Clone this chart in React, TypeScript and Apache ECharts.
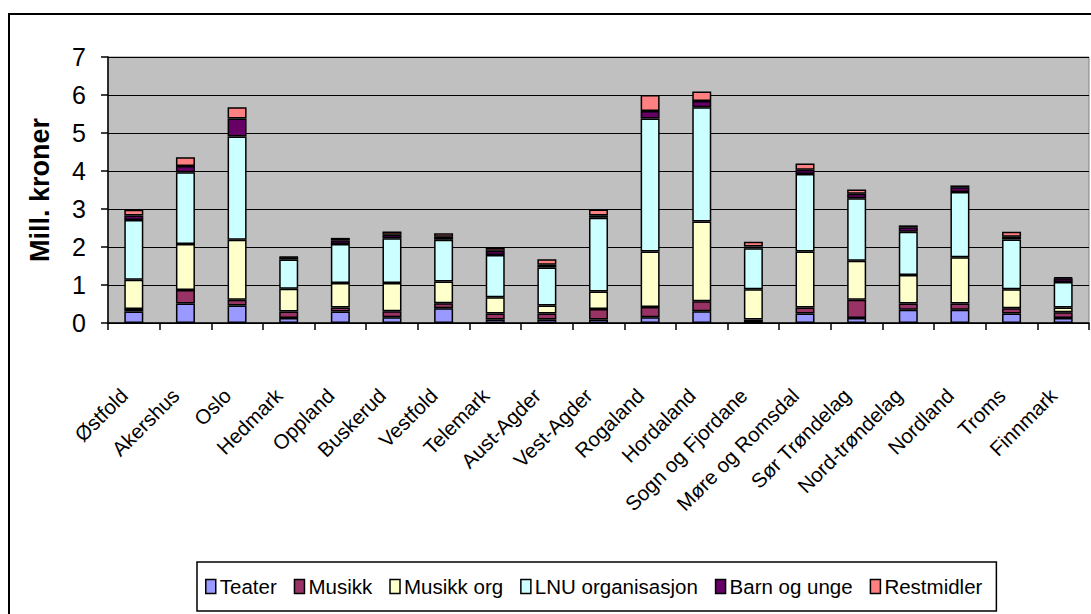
import React, { useEffect, useRef } from "react";
import * as echarts from "echarts";

const categories = ["Østfold","Akershus","Oslo","Hedmark","Oppland","Buskerud","Vestfold","Telemark","Aust-Agder","Vest-Agder","Rogaland","Hordaland","Sogn og Fjordane","Møre og Romsdal","Sør Trøndelag","Nord-trøndelag","Nordland","Troms","Finnmark"];
const teater =     [0.30,0.51,0.46,0.13,0.30,0.15,0.39,0.09,0.09,0.09,0.15,0.31,0.02,0.25,0.13,0.35,0.35,0.25,0.13];
const musikk =     [0.07,0.36,0.15,0.17,0.11,0.16,0.13,0.16,0.16,0.28,0.27,0.26,0.07,0.16,0.48,0.16,0.16,0.14,0.15];
const musikkOrg =  [0.77,1.21,1.58,0.60,0.64,0.74,0.57,0.43,0.21,0.46,1.46,2.10,0.80,1.47,1.03,0.75,1.22,0.50,0.13];
const lnu =        [1.57,1.89,2.72,0.77,1.03,1.18,1.10,1.11,1.00,1.94,3.50,3.01,1.08,2.04,1.64,1.14,1.72,1.31,0.67];
const barnOgUnge = [0.12,0.16,0.47,0.06,0.10,0.09,0.08,0.11,0.07,0.06,0.20,0.16,0.04,0.11,0.12,0.12,0.12,0.07,0.10];
const restmidler = [0.15,0.23,0.30,0.01,0.06,0.09,0.09,0.09,0.15,0.16,0.42,0.25,0.13,0.17,0.11,0.05,0.05,0.13,0.02];
const yTicks = [0,1,2,3,4,5,6,7];

const seriesDefs = [
  { name: "Teater", data: teater, color: "#9999FF" },
  { name: "Musikk", data: musikk, color: "#993366" },
  { name: "Musikk org", data: musikkOrg, color: "#FFFFCC" },
  { name: "LNU organisasjon", data: lnu, color: "#CCFFFF" },
  { name: "Barn og unge", data: barnOgUnge, color: "#660066" },
  { name: "Restmidler", data: restmidler, color: "#FF8080" },
];

const FONT = "'Liberation Sans', Arial, sans-serif";

export default function App() {
  const ref = useRef<HTMLDivElement>(null);
  useEffect(() => {
    const chart = echarts.init(ref.current!, undefined, { renderer: "svg" });
    chart.setOption({
      animation: false,
      backgroundColor: "#fff",
      graphic: [
        { type: "rect", shape: { x: 9, y: 14, width: 1200, height: 800 }, style: { fill: "none", stroke: "#000", lineWidth: 2 }, z: 100 },
      ],
      grid: { left: 108, right: 2, top: 57, bottom: 291, show: true, backgroundColor: "#C0C0C0", borderColor: "#808080", borderWidth: 1 },
      legend: {
        left: 197, top: 562,
        itemWidth: 10, itemHeight: 14, itemGap: 17,
        padding: [14, 14, 14, 8],
        borderColor: "#000", borderWidth: 1.5,
        icon: "rect",
        textStyle: { fontFamily: FONT, fontSize: 20.5, color: "#000", padding: [0, 0, 0, -1] },
        itemStyle: { borderColor: "#000", borderWidth: 1.5 },
        data: seriesDefs.map(s => s.name),
      },
      xAxis: {
        type: "category",
        data: categories,
        axisLine: { lineStyle: { color: "#000", width: 1.5 } },
        axisTick: { show: true, length: 7, lineStyle: { color: "#000", width: 1.5 } },
        axisLabel: { rotate: 45, margin: 59, interval: 0, fontFamily: FONT, fontSize: 20.5, color: "#000", padding: [0, 14, 0, 0] },
      },
      yAxis: {
        type: "value",
        min: 0, max: 7, interval: 1,
        name: "Mill. kroner",
        nameLocation: "middle",
        nameGap: 55,
        nameTextStyle: { fontFamily: FONT, fontSize: 27, fontWeight: "bold", color: "#000" },
        axisLine: { show: true, lineStyle: { color: "#000", width: 1.5 } },
        axisTick: { show: true, length: 7, lineStyle: { color: "#000", width: 1.5 } },
        axisLabel: { margin: 22, fontFamily: FONT, fontSize: 25, color: "#000", formatter: (v: number) => yTicks.includes(v) ? String(v) : "" },
        splitLine: { show: true, lineStyle: { color: "#000", width: 1.2 } },
      },
      series: seriesDefs.map(s => ({
        name: s.name,
        type: "bar",
        stack: "total",
        data: s.data,
        barWidth: 19,
        itemStyle: { color: s.color, borderColor: "#000", borderWidth: 1.5 },
      })),
    });
    return () => chart.dispose();
  }, []);
  return <div ref={ref} style={{ width: 1091, height: 614, position: "absolute", left: 0, top: 0 }} />;
}
